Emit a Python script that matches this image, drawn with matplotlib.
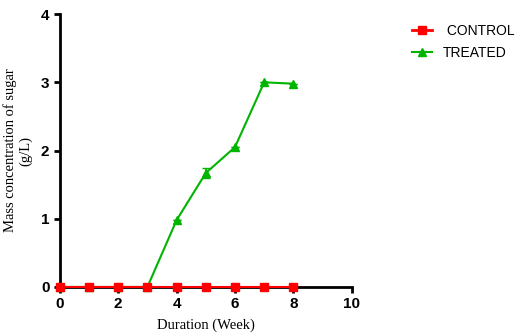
import numpy as np
import matplotlib.pyplot as plt
from matplotlib.lines import Line2D

# Data
weeks = [0, 1, 2, 3, 4, 5, 6, 7, 8]
control = [0, 0, 0, 0, 0, 0, 0, 0, 0]
treated = [0, 0, 0, 0, 0.98, 1.67, 2.05, 3.0, 2.98]
treated_err = [0, 0, 0, 0, 0, 0.08, 0, 0, 0]

green = "#00b400"
red = "#ff0000"

fig = plt.figure(figsize=(5.25, 3.36), dpi=100)
ax = fig.add_axes([0.114, 0.146, 0.556, 0.812])

# Treated first so control sits on top
ax.errorbar(weeks, treated, yerr=treated_err, color=green, marker="^", markersize=6,
            linewidth=1.5, capsize=3, elinewidth=1.2, clip_on=False, zorder=3)
ax.plot(weeks, control, color=red, marker="s", markersize=6, linewidth=1.5,
        clip_on=False, zorder=4)

ax.set_xlim(0, 10)
ax.set_ylim(0, 4)
ax.set_xticks(np.arange(0, 11, 2))
ax.set_yticks(np.arange(0, 5, 1))
for s in ["top", "right"]:
    ax.spines[s].set_visible(False)
for s in ["left", "bottom"]:
    ax.spines[s].set_linewidth(2)
ax.tick_params(direction="out", width=2, length=4, labelsize=11)
for lbl in ax.get_xticklabels() + ax.get_yticklabels():
    lbl.set_fontfamily("Liberation Sans")
    lbl.set_fontweight("bold")

ax.set_xlabel("Duration (Week)", fontfamily="Liberation Serif", fontsize=10.5, labelpad=5)
ax.set_ylabel("Mass concentration of sugar\n(g/L)", fontfamily="Liberation Serif", fontsize=10.5, labelpad=6)

handles = [Line2D([], [], color=red, marker="s", markersize=6, linewidth=2),
           Line2D([], [], color=green, marker="^", markersize=6, linewidth=1.5)]
ax.legend(handles, [" CONTROL", "TREATED"], loc="upper left", bbox_to_anchor=(1.165, 1.01),
          frameon=False, prop={"family": "Liberation Sans", "size": 10},
          handlelength=1.4, handletextpad=0.8, labelspacing=0.6)

fig.savefig("out.png", dpi=100)
